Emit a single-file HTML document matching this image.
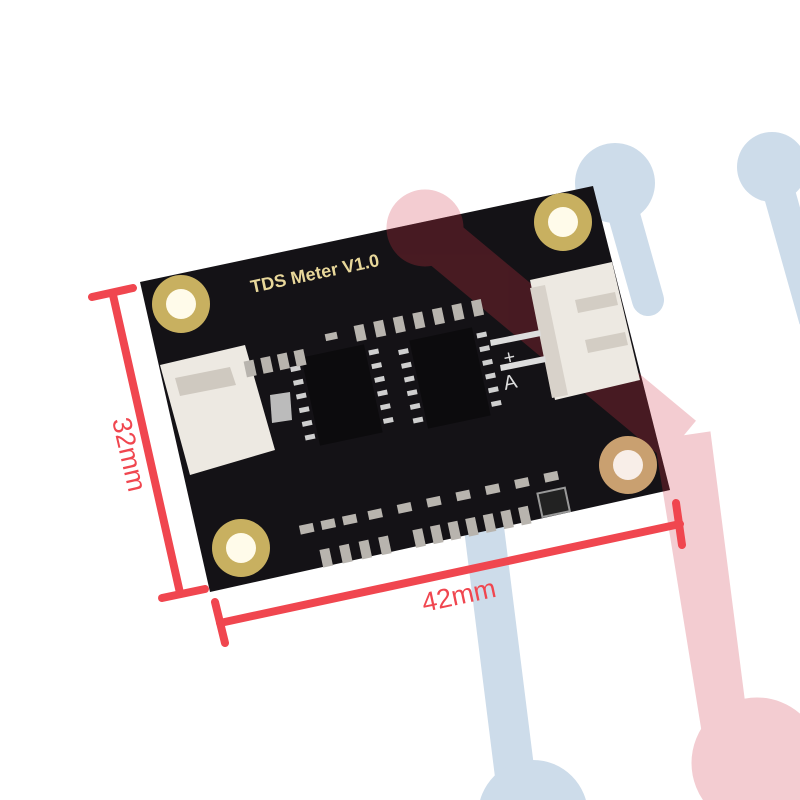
<!DOCTYPE html>
<html><head><meta charset="utf-8"><style>html,body{margin:0;padding:0;background:#fff;overflow:hidden;width:800px;height:800px}svg{display:block}</style></head>
<body>
<svg width="800" height="800" viewBox="0 0 800 800" xmlns="http://www.w3.org/2000/svg">
<defs>
  <clipPath id="b"><polygon points="140,282 593,186 670,490 210,592"/></clipPath>
  <clipPath id="page"><rect width="800" height="800"/></clipPath>
  <g id="redshape">
    <circle cx="425" cy="228" r="38"/>
    <line x1="425" y1="228" x2="680" y2="440" stroke-width="50"/>
    <polygon points="655,440 710,432 752,760 708,768"/>
    <circle cx="757" cy="763" r="65"/>
  </g>
</defs>
<g clip-path="url(#page)">
<rect width="800" height="800" fill="#fff"/>
<g fill="#cddcea" stroke="#cddcea">
  <circle cx="615" cy="183" r="40" stroke="none"/>
  <line x1="615" y1="183" x2="648" y2="300" stroke-width="32" stroke-linecap="round"/>
  <circle cx="772" cy="167" r="35" stroke="none"/>
  <line x1="772" y1="167" x2="815" y2="320" stroke-width="32"/>
  <line x1="478" y1="480" x2="518" y2="800" stroke-width="40"/>
  <circle cx="533" cy="815" r="55" stroke="none"/>
</g>
<use href="#redshape" fill="#f3ccd1" stroke="#f3ccd1"/>
<polygon points="140,282 593,186 670,490 210,592" fill="#141216"/>
<g clip-path="url(#b)" opacity="0.3">
  <use href="#redshape" fill="#c0303f" stroke="#c0303f"/>
</g>
<g>
  <circle cx="181" cy="304" r="29" fill="#c8b060"/><circle cx="181" cy="304" r="15" fill="#fffbea"/>
  <circle cx="563" cy="222" r="29" fill="#c8b060"/><circle cx="563" cy="222" r="15" fill="#fffbea"/>
  <circle cx="628" cy="465" r="29" fill="#c9a070"/><circle cx="628" cy="465" r="15" fill="#f8eee8"/>
  <circle cx="241" cy="548" r="29" fill="#c8b060"/><circle cx="241" cy="548" r="15" fill="#fffbea"/>
</g>
<text transform="translate(252 293) rotate(-12)" font-family="Liberation Sans, sans-serif" font-size="18" fill="#e8d79a" font-weight="bold">TDS Meter  V1.0</text>
<polygon points="160,365 245,345 275,450 190,475" fill="#ede9e2"/>
<polygon points="175,378 230,367 236,385 180,396" fill="#cfc9c0"/>
<polygon points="270,395 290,392 292,420 272,423" fill="#bbb"/>
<polygon points="530,280 612,262 640,380 555,400" fill="#ede9e2"/>
<polygon points="545,285 530,288 552,398 568,395" fill="#d8d2ca"/>
<polygon points="575,300 615,292 618,305 578,313" fill="#d3cdc4"/>
<polygon points="585,340 625,332 628,345 588,353" fill="#d3cdc4"/>
<polygon points="490,340 540,330 541,336 491,346" fill="#ddd"/>
<polygon points="500,365 545,356 546,362 501,371" fill="#ddd"/>
<text transform="translate(505 390) rotate(-12)" font-family="Liberation Sans, sans-serif" font-size="20" fill="#ddd">A</text>
<text transform="translate(505 365) rotate(-12)" font-family="Liberation Sans, sans-serif" font-size="20" fill="#ddd">+</text>
<g transform="translate(342 395) rotate(-12)">
  <rect x="-32" y="-45" width="64" height="90" fill="#0c0b0d"/>
  <g fill="#cfcfcf">
    <rect x="-45" y="-38" width="10" height="5"/><rect x="-45" y="-24" width="10" height="5"/><rect x="-45" y="-10" width="10" height="5"/><rect x="-45" y="4" width="10" height="5"/><rect x="-45" y="18" width="10" height="5"/><rect x="-45" y="32" width="10" height="5"/>
    <rect x="35" y="-38" width="10" height="5"/><rect x="35" y="-24" width="10" height="5"/><rect x="35" y="-10" width="10" height="5"/><rect x="35" y="4" width="10" height="5"/><rect x="35" y="18" width="10" height="5"/><rect x="35" y="32" width="10" height="5"/>
  </g>
</g>
<g transform="translate(450 378) rotate(-12)">
  <rect x="-32" y="-45" width="64" height="90" fill="#0c0b0d"/>
  <g fill="#cfcfcf">
    <rect x="-45" y="-38" width="10" height="5"/><rect x="-45" y="-24" width="10" height="5"/><rect x="-45" y="-10" width="10" height="5"/><rect x="-45" y="4" width="10" height="5"/><rect x="-45" y="18" width="10" height="5"/><rect x="-45" y="32" width="10" height="5"/>
    <rect x="35" y="-38" width="10" height="5"/><rect x="35" y="-24" width="10" height="5"/><rect x="35" y="-10" width="10" height="5"/><rect x="35" y="4" width="10" height="5"/><rect x="35" y="18" width="10" height="5"/><rect x="35" y="32" width="10" height="5"/>
  </g>
</g>
<g transform="rotate(-12 400 400)" fill="#b8b4ae">
  <rect x="255" y="330" width="10" height="16"/><rect x="272" y="330" width="10" height="16"/><rect x="289" y="330" width="10" height="16"/><rect x="306" y="330" width="10" height="16"/>
  <rect x="340" y="320" width="12" height="7"/>
  <rect x="370" y="318" width="10" height="16"/><rect x="390" y="318" width="10" height="16"/><rect x="410" y="318" width="10" height="16"/><rect x="430" y="318" width="10" height="16"/><rect x="450" y="318" width="10" height="16"/><rect x="470" y="318" width="10" height="16"/><rect x="490" y="318" width="10" height="16"/>
  <rect x="275" y="502" width="14" height="9"/><rect x="297" y="502" width="14" height="9"/><rect x="319" y="502" width="14" height="9"/><rect x="345" y="502" width="14" height="9"/><rect x="375" y="502" width="14" height="9"/><rect x="405" y="502" width="14" height="9"/><rect x="435" y="502" width="14" height="9"/><rect x="465" y="502" width="14" height="9"/><rect x="495" y="502" width="14" height="9"/><rect x="525" y="502" width="14" height="9"/>
  <rect x="290" y="530" width="10" height="18"/><rect x="310" y="530" width="10" height="18"/><rect x="330" y="530" width="10" height="18"/><rect x="350" y="530" width="10" height="18"/><rect x="385" y="530" width="10" height="18"/><rect x="403" y="530" width="10" height="18"/><rect x="421" y="530" width="10" height="18"/><rect x="439" y="530" width="10" height="18"/><rect x="457" y="530" width="10" height="18"/><rect x="475" y="530" width="10" height="18"/><rect x="493" y="530" width="10" height="18"/>
  <rect x="515" y="520" width="28" height="24" fill="#222" stroke="#999" stroke-width="2"/>
</g>
<g stroke="#f0464f" stroke-width="8" stroke-linecap="round" fill="none">
  <line x1="113" y1="295" x2="180" y2="593"/>
  <line x1="92" y1="297" x2="133" y2="288"/>
  <line x1="162" y1="598" x2="205" y2="589"/>
  <line x1="220" y1="623" x2="680" y2="524"/>
  <line x1="215" y1="602" x2="225" y2="643"/>
  <line x1="676" y1="503" x2="682" y2="545"/>
</g>
<text transform="translate(424 612) rotate(-12)" font-family="Liberation Sans, sans-serif" font-size="27" fill="#f0464f">42mm</text>
<text transform="translate(112 420) rotate(77)" font-family="Liberation Sans, sans-serif" font-size="27" fill="#f0464f">32mm</text>
</g>
</svg>
</body></html>
